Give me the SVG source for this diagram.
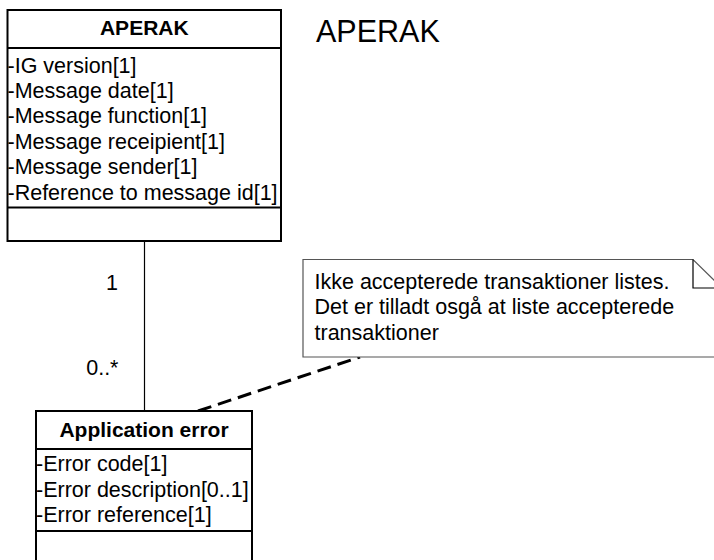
<svg xmlns="http://www.w3.org/2000/svg" width="714" height="560" viewBox="0 0 714 560">
<style>
text{font-family:"Liberation Sans",Arial,sans-serif;fill:#000}
.t{font-size:21px;font-weight:bold;text-anchor:middle}
.a{font-size:21.5px}
.box{fill:#fff;stroke:#000;stroke-width:2}
.sep{stroke:#000;stroke-width:2}
.note{fill:#fff;stroke:#555;stroke-width:1.2}
</style>
<rect width="714" height="560" fill="#fff"/>
<text x="316" y="42" style="font-size:30.5px">APERAK</text>
<g id="connectors">
<line x1="144.5" y1="241" x2="144.5" y2="411" stroke="#000" stroke-width="1.2"/>
<line x1="198" y1="411" x2="360" y2="357" stroke="#000" stroke-width="3" stroke-dasharray="14 7"/>
<text x="118" y="290" class="a" text-anchor="end">1</text>
<text x="118.5" y="375" class="a" text-anchor="end">0..*</text>
</g>
<g id="aperak">
<rect x="7.5" y="10" width="273.5" height="231" class="box"/>
<line x1="7.5" y1="48" x2="281" y2="48" class="sep"/>
<line x1="7.5" y1="207.5" x2="281" y2="207.5" class="sep"/>
<text x="144.3" y="35" class="t">APERAK</text>
<text x="7.5" y="72.5" class="a">-IG version[1]</text>
<text x="7.5" y="97.9" class="a">-Message date[1]</text>
<text x="7.5" y="123.3" class="a">-Message function[1]</text>
<text x="7.5" y="148.7" class="a">-Message receipient[1]</text>
<text x="7.5" y="174.1" class="a">-Message sender[1]</text>
<text x="7.5" y="199.5" class="a">-Reference to message id[1]</text>
</g>
<g id="application-error">
<rect x="36" y="411" width="216" height="160" class="box"/>
<line x1="36" y1="449" x2="252" y2="449" class="sep"/>
<line x1="36" y1="531" x2="252" y2="531" class="sep"/>
<text x="144" y="436.7" class="t">Application error</text>
<text x="36" y="471" class="a">-Error code[1]</text>
<text x="36" y="496.5" class="a">-Error description[0..1]</text>
<text x="36" y="522" class="a">-Error reference[1]</text>
</g>
<g id="note">
<path d="M303,259.5 L693,259.5 L722,288 L722,357 L303,357 Z" class="note"/>
<path d="M693,259.5 L693,288 L722,288" fill="none" stroke="#000" stroke-width="1.2"/>
<text x="314.5" y="289.3" class="a">Ikke accepterede transaktioner listes.</text>
<text x="314.5" y="314.3" class="a">Det er tilladt osgå at liste accepterede</text>
<text x="314.5" y="339.5" class="a">transaktioner</text>
</g>
</svg>
